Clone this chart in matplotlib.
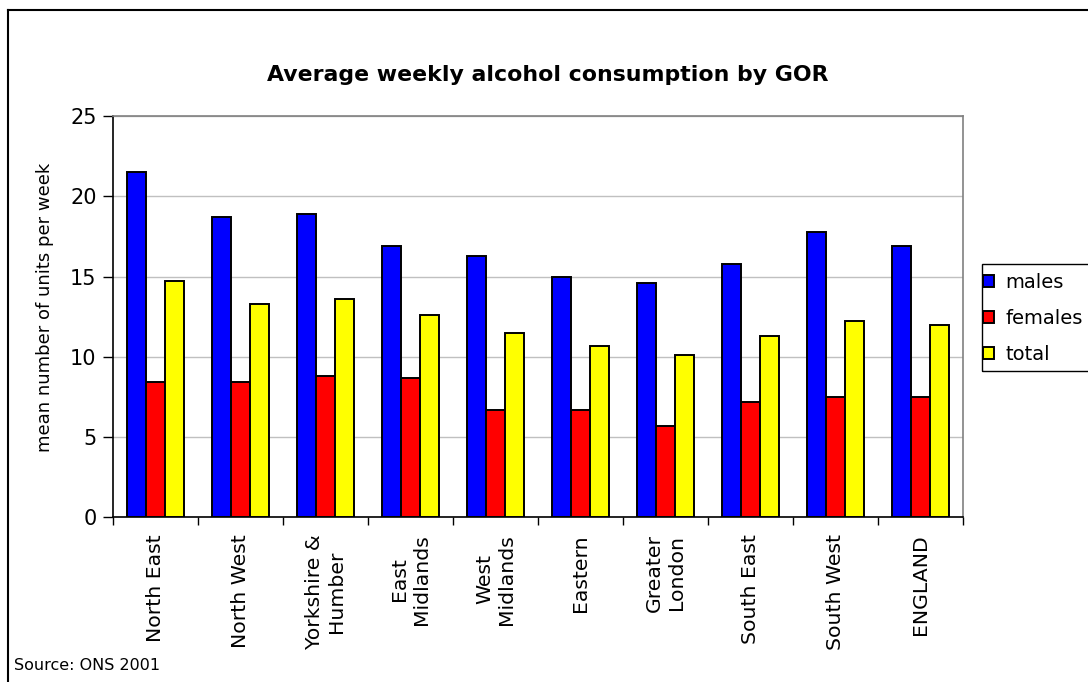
import numpy as np
import matplotlib.pyplot as plt
from matplotlib.patches import Rectangle
from matplotlib.lines import Line2D

regions = ['North East', 'North West', 'Yorkshire &\nHumber', 'East\nMidlands',
           'West\nMidlands', 'Eastern', 'Greater\nLondon', 'South East',
           'South West', 'ENGLAND']
males = [21.5, 18.7, 18.9, 16.9, 16.3, 15.0, 14.6, 15.8, 17.8, 16.9]
females = [8.4, 8.4, 8.8, 8.7, 6.7, 6.7, 5.7, 7.2, 7.5, 7.5]
total = [14.7, 13.3, 13.6, 12.6, 11.5, 10.7, 10.1, 11.3, 12.2, 12.0]

series = [('males', males, '#0000ff'),
          ('females', females, '#ff0000'),
          ('total', total, '#ffff00')]

W, H = 1088, 682
fig = plt.figure(figsize=(W / 100, H / 100), dpi=100)
plt.rcParams['font.family'] = ['DejaVu Sans']

# plot area in pixels
left, right, top, bottom = 113.3, 962.7, 116, 517.3
ax = fig.add_axes([left / W, 1 - bottom / H, (right - left) / W, (bottom - top) / H])

x = np.arange(len(regions))
bw = 0.224
for i, (name, vals, col) in enumerate(series):
    ax.bar(x + (i - 1) * bw, vals, bw, color=col, edgecolor='black',
           linewidth=1.4, label=name, zorder=3)

ax.set_xlim(-0.5, len(regions) - 0.5)
ax.set_ylim(0, 25)
ax.set_yticks([0, 5, 10, 15, 20, 25])
ax.yaxis.grid(True, color='#c0c0c0', linewidth=1, zorder=0)
ax.set_axisbelow(True)

ax.set_xticks(x)
ax.set_xticklabels(regions, rotation=90, fontsize=14.7, va='top', ha='center',
                   multialignment='center')
ax.set_xticks(np.arange(-0.5, len(regions)), minor=True)
ax.tick_params(axis='x', which='major', length=0, pad=12)
ax.tick_params(axis='x', which='minor', length=6, width=1, direction='out')
ax.tick_params(axis='y', length=7, width=1, direction='out', labelsize=15, pad=5)

for s in ['top', 'right']:
    ax.spines[s].set_color('#808080')
    ax.spines[s].set_linewidth(1.2)
for s in ['left', 'bottom']:
    ax.spines[s].set_color('black')
    ax.spines[s].set_linewidth(1.2)

fig.text(45 / W, 1 - 307 / H, 'mean number of units per week', rotation=90,
         ha='center', va='center', fontsize=13)
fig.text(548 / W, 1 - 75 / H, 'Average weekly alcohol consumption by GOR',
         ha='center', va='center', fontsize=15.8, fontweight='bold')
fig.text(14 / W, 1 - 665 / H, 'Source: ONS 2001', ha='left', va='center', fontsize=11.5)

# legend box (runs off the right edge)
fig.patches.append(Rectangle((982 / W, 1 - 371 / H), 200 / W, 107 / H,
                             transform=fig.transFigure, fill=False,
                             edgecolor='black', linewidth=1))
handles, labels = ax.get_legend_handles_labels()
fig.legend(handles, labels, loc='upper left', bbox_to_anchor=(983 / W, 1 - 273 / H),
           frameon=False, fontsize=14, borderpad=0, borderaxespad=0,
           handlelength=0.55, handleheight=0.55, handletextpad=0.6,
           labelspacing=0.87)

# outer chart border (cropped on right and bottom)
fig.add_artist(Line2D([8 / W, 1], [1 - 10 / H, 1 - 10 / H], color='black',
                      linewidth=1.5, transform=fig.transFigure))
fig.add_artist(Line2D([8 / W, 8 / W], [0, 1 - 10 / H], color='black',
                      linewidth=1.5, transform=fig.transFigure))

fig.savefig('out.png', dpi=100)
